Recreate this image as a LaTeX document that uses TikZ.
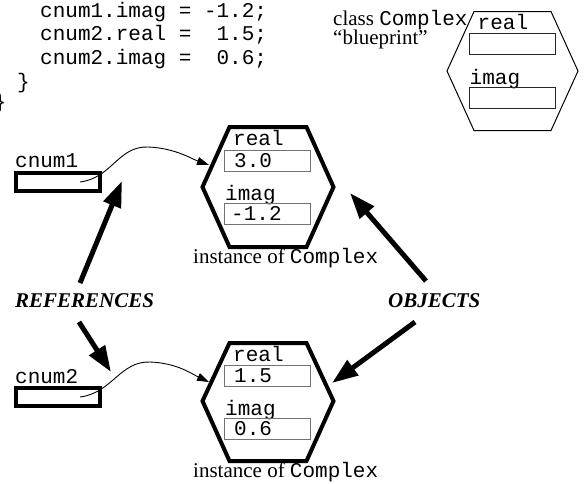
\documentclass[tikz,border=0pt]{standalone}
\usepackage{fontspec}
\setmainfont{Liberation Serif}
\setmonofont{Liberation Mono}
\usetikzlibrary{arrows.meta}

\begin{document}
\begin{tikzpicture}[x=1pt,y=-1pt,
  mono/.style={font=\fontsize{21}{24}\selectfont\ttfamily, inner sep=0pt, anchor=base west},
  serif/.style={font=\fontsize{21}{24}\selectfont, inner sep=0pt, anchor=base west},
  bigword/.style={font=\fontsize{21}{24}\selectfont\bfseries\itshape, inner sep=0pt, anchor=base west},
  hexthin/.style={draw, line width=1pt, line join=miter},
  hexthick/.style={draw, line width=4pt, line join=miter},
  classfield/.style={draw=black!85, line width=1pt, minimum width=86pt, minimum height=21pt, inner sep=0pt},
  objfield/.style={draw=black!55, line width=1pt, minimum width=86pt, minimum height=21pt, inner sep=0pt},
  refbox/.style={draw, line width=4pt, minimum width=84pt, minimum height=18pt, inner sep=0pt},
  link/.style={line width=0.9pt, -{Triangle[length=12pt,width=8pt]}},
  bigarrow/.style={line width=5pt, -{Triangle[length=26pt,width=18pt]}},
]
\useasboundingbox (0,0) rectangle (586,483);

% tail of the source listing
\node[mono] (code1) at (40,17) {cnum1.imag = -1.2;};
\node[mono] (code2) at (40,40.5) {cnum2.real =~ 1.5;};
\node[mono] (code3) at (40,64) {cnum2.imag =~ 0.6;};
\node[mono, anchor=base] (brace1) at (23.5,88) {\}};
\node[mono, anchor=base] (brace2) at (0,108) {\}};

% the class Complex "blueprint"
\node[serif] (classlbl) at (333,25) {class \texttt{Complex}};
\node[serif] (bluelbl) at (333,44) {“blueprint”};
\begin{scope}[shift={(512.5,71)}]
  \draw[hexthin] (-38.5,-59.5) -- (38.5,-59.5) -- (65.5,0) -- (38.5,59.5)
    -- (-38.5,59.5) -- (-65.5,0) -- cycle;
  \node[mono] (clsreal) at (-35,-42) {real};
  \node[classfield] (clsrealbox) at (0,-27) {};
  \node[mono] (clsimag) at (-43,13) {imag};
  \node[classfield] (clsimagbox) at (0,27) {};
\end{scope}

% first instance of Complex
\begin{scope}[shift={(268,187)}]
  \draw[hexthick] (-38.5,-60) -- (38.5,-60) -- (65.5,0) -- (38.5,60)
    -- (-38.5,60) -- (-65.5,0) -- cycle;
  \node[mono] (onereal) at (-35,-42) {real};
  \node[objfield] (onerealbox) at (-1,-26.5) {};
  \node[mono] (onerealval) at (-34,-20) {3.0};
  \node[mono] (oneimag) at (-43,13) {imag};
  \node[objfield] (oneimagbox) at (-1,27) {};
  \node[mono] (oneimagval) at (-37,33.5) {-1.2};
  \node[serif] (onecap) at (-75,76) {instance of \texttt{Complex}};
  \coordinate (onein) at (-59,-22);
\end{scope}

% second instance of Complex
\begin{scope}[shift={(268,401)}]
  \draw[hexthick] (-38.5,-58) -- (38.5,-58) -- (65.5,0) -- (38.5,60)
    -- (-38.5,60) -- (-65.5,0) -- cycle;
  \node[mono] (tworeal) at (-35,-40) {real};
  \node[objfield] (tworealbox) at (-1,-25.5) {};
  \node[mono] (tworealval) at (-34,-19) {1.5};
  \node[mono] (twoimag) at (-43,14) {imag};
  \node[objfield] (twoimagbox) at (-1,28) {};
  \node[mono] (twoimagval) at (-34,34.5) {0.6};
  \node[serif] (twocap) at (-75,76) {instance of \texttt{Complex}};
  \coordinate (twoin) at (-59,-19);
\end{scope}

% reference variables
\node[mono] (c1lbl) at (15,167) {cnum1};
\node[refbox] (c1box) at (58,182) {};
\coordinate (c1start) at (80,182);
\node[mono] (c2lbl) at (15,383) {cnum2};
\node[refbox] (c2box) at (58,397) {};
\coordinate (c2start) at (80,397);

\draw[link] (c1start) .. controls (112,178) and (118,146) .. (148,147)
  .. controls (175,148) and (192,159) .. (onein);
\draw[link] (c2start) .. controls (112,393) and (120,361) .. (150,362)
  .. controls (177,363) and (192,374) .. (twoin);

% captions with their pointers
\node[bigword] (refs) at (15,307) {REFERENCES};
\node[bigword] (objs) at (388,307) {OBJECTS};

\coordinate (refsup) at (80,283);
\coordinate (refsupend) at (122,181);
\coordinate (refsdown) at (79,322);
\coordinate (refsdownend) at (111,372);
\coordinate (objsup) at (426,281);
\coordinate (objsupend) at (350,193);
\coordinate (objsdown) at (415,322);
\coordinate (objsdownend) at (332,383);

\draw[bigarrow] (refsup) -- (refsupend);
\draw[bigarrow] (refsdown) -- (refsdownend);
\draw[bigarrow] (objsup) -- (objsupend);
\draw[bigarrow] (objsdown) -- (objsdownend);
\end{tikzpicture}
\end{document}
